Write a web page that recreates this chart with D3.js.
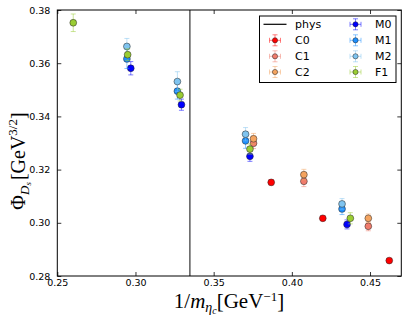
<!DOCTYPE html>
<html><head><meta charset="utf-8">
<script src="https://cdn.jsdelivr.net/npm/d3@7"></script>
<style>body{margin:0;background:#fff}svg{display:block}</style>
</head><body>
<script>
// ---- data ----
const seriesNames = ["C0","C1","C2","M0","M1","M2","F1"];
const seriesColors = ["#ff0000","#f07c6c","#f4a460","#0000ff","#1e90ff","#7fc4f0","#9acd32"];
const C0_x = [0.3868, 0.4198, 0.4623];
const C0_y = [0.3152, 0.3017, 0.2858];
const C0_e = [0.0010, 0.0009, 0.0008];
const C1_x = [0.3755, 0.4077, 0.4489];
const C1_y = [0.3299, 0.3156, 0.2987];
const C1_e = [0.0020, 0.0020, 0.0017];
const C2_x = [0.3755, 0.4077, 0.4489];
const C2_y = [0.3316, 0.3181, 0.3017];
const C2_e = [0.0020, 0.0020, 0.0016];
const M0_x = [0.2970, 0.3294, 0.3732, 0.4353];
const M0_y = [0.3581, 0.3444, 0.3250, 0.2994];
const M0_e = [0.0025, 0.0021, 0.0019, 0.0017];
const M1_x = [0.2945, 0.3268, 0.3704, 0.4321];
const M1_y = [0.3616, 0.3495, 0.3308, 0.3052];
const M1_e = [0.0036, 0.0030, 0.0028, 0.0021];
const M2_x = [0.2945, 0.3268, 0.3704, 0.4321];
const M2_y = [0.3663, 0.3531, 0.3333, 0.3071];
const M2_e = [0.0030, 0.0037, 0.0025, 0.0020];
const F1_x = [0.2602, 0.2950, 0.3285, 0.3732, 0.4374];
const F1_y = [0.3752, 0.3632, 0.3480, 0.3277, 0.3017];
const F1_e = [0.0033, 0.0022, 0.0022, 0.0019, 0.0021];
const xErr = 0.0004;
const physX = 0.3348;
const xTicks = [0.25, 0.30, 0.35, 0.40, 0.45];
const yTicks = [0.28, 0.30, 0.32, 0.34, 0.36, 0.38];

const seriesData = [
  [C0_x, C0_y, C0_e], [C1_x, C1_y, C1_e], [C2_x, C2_y, C2_e],
  [M0_x, M0_y, M0_e], [M1_x, M1_y, M1_e], [M2_x, M2_y, M2_e], [F1_x, F1_y, F1_e]
];

// ---- layout ----
const W = 407, H = 322;
const L = 57.3, R = 401.3, T = 10, B = 276;
const x = d3.scaleLinear().domain([0.25, 0.47]).range([L, R]);
const y = d3.scaleLinear().domain([0.28, 0.38]).range([B, T]);

const svg = d3.select("body").append("svg").attr("width", W).attr("height", H);

const tickFont = "DejaVu Sans, sans-serif";
// axes
const gB = svg.append("g").attr("transform", `translate(0,${B})`)
  .call(d3.axisBottom(x).tickValues(xTicks).tickFormat(d3.format(".2f")).tickSizeInner(-4).tickSizeOuter(0).tickPadding(5));
const gT = svg.append("g").attr("transform", `translate(0,${T})`)
  .call(d3.axisTop(x).tickValues(xTicks).tickFormat("").tickSizeInner(-4).tickSizeOuter(0));
const gL = svg.append("g").attr("transform", `translate(${L},0)`)
  .call(d3.axisLeft(y).tickValues(yTicks).tickFormat(d3.format(".2f")).tickSizeInner(-4).tickSizeOuter(0).tickPadding(7));
const gR = svg.append("g").attr("transform", `translate(${R},0)`)
  .call(d3.axisRight(y).tickValues(yTicks).tickFormat("").tickSizeInner(-4).tickSizeOuter(0));
[gB, gT, gL, gR].forEach(g => {
  g.select(".domain").remove();
  g.selectAll("text").attr("font-family", tickFont).attr("font-size", 9.5).attr("fill", "#000");
  g.selectAll("line").attr("stroke", "#000").attr("stroke-width", 0.8);
});
gB.selectAll("text").attr("dy", "0.55em");

// phys line
svg.append("line").attr("x1", x(physX)).attr("x2", x(physX)).attr("y1", T).attr("y2", B)
  .attr("stroke", "#333").attr("stroke-width", 1.2);

// data
const cap = 2.5, rad = 3.4;
seriesData.forEach((sd, i) => {
  const col = seriesColors[i];
  const pts = sd[0].map((xv, j) => ({x: xv, y: sd[1][j], e: sd[2][j]}));
  const g = svg.append("g");
  const eb = g.append("g").attr("stroke", col).attr("stroke-opacity", 0.5).attr("stroke-width", 1);
  pts.forEach(p => {
    const cx = x(p.x), cy = y(p.y);
    eb.append("line").attr("x1", cx).attr("x2", cx).attr("y1", y(p.y - p.e)).attr("y2", y(p.y + p.e));
    eb.append("line").attr("x1", cx - cap).attr("x2", cx + cap).attr("y1", y(p.y - p.e)).attr("y2", y(p.y - p.e));
    eb.append("line").attr("x1", cx - cap).attr("x2", cx + cap).attr("y1", y(p.y + p.e)).attr("y2", y(p.y + p.e));
    eb.append("line").attr("x1", x(p.x - xErr)).attr("x2", x(p.x + xErr)).attr("y1", cy).attr("y2", cy);
  });
  g.selectAll("circle").data(pts).join("circle")
    .attr("cx", d => x(d.x)).attr("cy", d => y(d.y)).attr("r", rad)
    .attr("fill", col).attr("stroke", "#222").attr("stroke-width", 0.5);
});

// frame
svg.append("rect").attr("x", L).attr("y", T).attr("width", R - L).attr("height", B - T)
  .attr("fill", "none").attr("stroke", "#000").attr("stroke-width", 1);

// legend
const lg = svg.append("g");
lg.append("rect").attr("x", 259.5).attr("y", 16).attr("width", 136.5).attr("height", 66.5)
  .attr("fill", "#fff").attr("stroke", "#000").attr("stroke-width", 1);
const rowY = [24.3, 40.3, 56.3, 72];
const legItems = [{name: "phys", type: "line"}].concat(seriesNames.map((n, i) => ({name: n, type: "pt", col: seriesColors[i]})));
legItems.forEach((it, k) => {
  const colIdx = Math.floor(k / 4), row = k % 4;
  const mx = colIdx === 0 ? 275 : 355.5;
  const tx = colIdx === 0 ? 295 : 375;
  const ly = rowY[row];
  if (it.type === "line") {
    lg.append("line").attr("x1", 263.5).attr("x2", 286.5).attr("y1", ly).attr("y2", ly).attr("stroke", "#000").attr("stroke-width", 1.2);
  } else {
    const e = lg.append("g").attr("stroke", it.col).attr("stroke-opacity", 0.5).attr("stroke-width", 1);
    e.append("line").attr("x1", mx).attr("x2", mx).attr("y1", ly - 5.5).attr("y2", ly + 5.5);
    e.append("line").attr("x1", mx - 5.5).attr("x2", mx + 5.5).attr("y1", ly).attr("y2", ly);
    e.append("line").attr("x1", mx - 2.5).attr("x2", mx + 2.5).attr("y1", ly - 5.5).attr("y2", ly - 5.5);
    e.append("line").attr("x1", mx - 2.5).attr("x2", mx + 2.5).attr("y1", ly + 5.5).attr("y2", ly + 5.5);
    e.append("line").attr("x1", mx - 5.5).attr("x2", mx - 5.5).attr("y1", ly - 2.5).attr("y2", ly + 2.5);
    e.append("line").attr("x1", mx + 5.5).attr("x2", mx + 5.5).attr("y1", ly - 2.5).attr("y2", ly + 2.5);
    lg.append("circle").attr("cx", mx).attr("cy", ly).attr("r", 2.6).attr("fill", it.col).attr("stroke", "#222").attr("stroke-width", 0.5);
  }
  lg.append("text").attr("x", tx).attr("y", ly).attr("dy", "0.36em")
    .attr("font-family", tickFont).attr("font-size", 11).attr("fill", "#000").text(it.name);
});

// axis labels
const serif = "Liberation Serif, DejaVu Serif, serif";
const xl = svg.append("text").attr("x", 229).attr("y", 307.5).attr("text-anchor", "middle")
  .attr("font-family", serif).attr("font-size", 21).attr("fill", "#000");
xl.append("tspan").text("1/");
xl.append("tspan").attr("font-style", "italic").text("m");
xl.append("tspan").attr("font-style", "italic").attr("font-size", 14).attr("dy", 4).text("η");
xl.append("tspan").attr("font-style", "italic").attr("font-size", 10).attr("dy", 2).text("c");
xl.append("tspan").attr("dy", -6).text("[GeV");
xl.append("tspan").attr("font-size", 13).attr("dy", -7).text("−1");
xl.append("tspan").attr("dy", 7).text("]");

const yl = svg.append("text").attr("transform", "translate(25,161) rotate(-90)").attr("text-anchor", "middle")
  .attr("font-family", serif).attr("font-size", 20).attr("fill", "#000");
yl.append("tspan").text("Φ");
yl.append("tspan").attr("font-style", "italic").attr("font-size", 13).attr("dy", 4).text("D");
yl.append("tspan").attr("font-style", "italic").attr("font-size", 9).attr("dy", 2).text("s");
yl.append("tspan").attr("dx", 2).attr("dy", -6).text("[GeV");
yl.append("tspan").attr("font-size", 13).attr("dy", -8).text("3/2");
yl.append("tspan").attr("dy", 8).text("]");
</script>
</body></html>
